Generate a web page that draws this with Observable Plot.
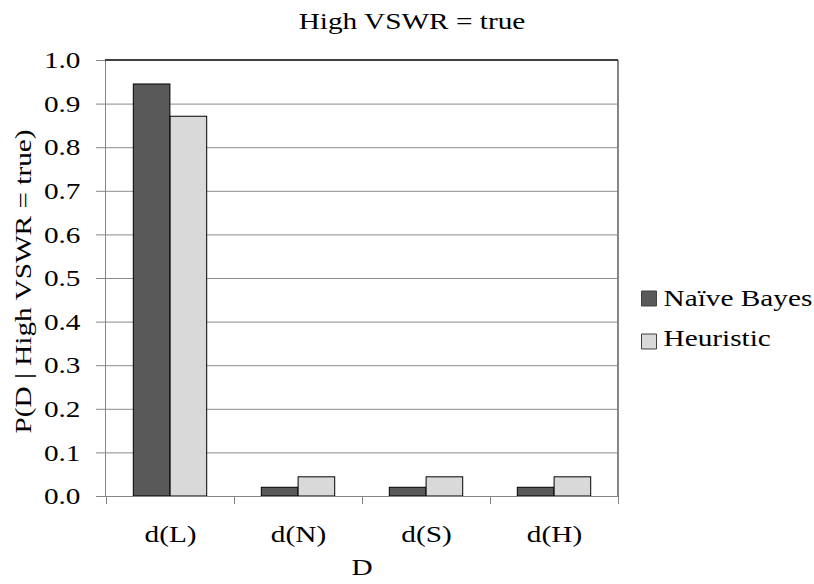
<!DOCTYPE html>
<html><head><meta charset="utf-8">
<script src="https://cdn.jsdelivr.net/npm/d3@7"></script>
<script src="https://cdn.jsdelivr.net/npm/@observablehq/plot@0.6"></script>
<style>html,body{margin:0;padding:0;background:#fff;overflow:hidden}</style>
</head><body><div id="chart"></div>
<script>
const categories = ["d(L)", "d(N)", "d(S)", "d(H)"];
const seriesNames = ["Naïve Bayes", "Heuristic"];
const naiveBayes = [0.945, 0.020, 0.020, 0.020];
const heuristic = [0.871, 0.044, 0.044, 0.044];
const yTicks = [0, 0.1, 0.2, 0.3, 0.4, 0.5, 0.6, 0.7, 0.8, 0.9, 1.0];
const seriesColors = ["#595959", "#d9d9d9"];
const title = "High VSWR = true";
const xTitle = "D";
const yTitle = "P(D | High VSWR = true)";

const rows = categories.flatMap((c, i) => [
  {category: c, series: seriesNames[0], value: naiveBayes[i]},
  {category: c, series: seriesNames[1], value: heuristic[i]}
]);

const FONT = 24;
const inNear = 27.3, inFar = 64.1;

function axisLines(index, scales, values, dim) {
  const xs = categories.map(c => scales.x(c));
  const xl = dim.marginLeft, xr = dim.width - dim.marginRight;
  xs.push(xr);
  const y0 = scales.y(0), y1 = scales.y(1);
  const g = d3.create("svg:g").attr("stroke", "#868686").attr("stroke-width", 1).attr("shape-rendering", "crispEdges");
  for (const x of xs) g.append("line").attr("x1", x).attr("x2", x).attr("y1", y0).attr("y2", y0 + 8);
  g.append("line").attr("x1", xl).attr("x2", xl).attr("y1", y1).attr("y2", y0);
  g.append("line").attr("x1", xr).attr("x2", xr).attr("y1", y1).attr("y2", y0).attr("stroke-width", 1.5);
  g.append("line").attr("x1", xl).attr("x2", xr).attr("y1", y0).attr("y2", y0);
  g.append("line").attr("x1", xl).attr("x2", xr).attr("y1", y1).attr("y2", y1).attr("stroke", "#404040").attr("stroke-width", 1.5);
  return g.node();
}

const chart = Plot.plot({
  width: 814, height: 584,
  marginLeft: 105, marginRight: 196, marginTop: 60, marginBottom: 88,
  style: {fontFamily: "'Liberation Serif', 'Times New Roman', serif", fontSize: FONT + "px", color: "#000", background: "#fff"},
  x: {domain: categories, padding: 0},
  y: {domain: [0, 1]},
  marks: [
    Plot.ruleY(yTicks.filter(t => t > 0 && t < 1), {y: d => d, stroke: "#8c8c8c", strokeWidth: 1}),
    Plot.barY(rows.filter(r => r.series === seriesNames[0]), {x: "category", y: "value", fill: seriesColors[0], stroke: "#000", strokeWidth: 1, insetLeft: inNear, insetRight: inFar}),
    Plot.barY(rows.filter(r => r.series === seriesNames[1]), {x: "category", y: "value", fill: seriesColors[1], stroke: "#000", strokeWidth: 1, insetLeft: inFar, insetRight: inNear}),
    axisLines,
    Plot.axisY({ticks: yTicks, tickFormat: d3.format(".1f"), tickSize: 9, tickPadding: 16, label: null, stroke: "#868686"}),
    Plot.axisX({tickSize: 0, tickPadding: 28, label: null}),
    Plot.text([title], {text: d => d, frameAnchor: "top", lineAnchor: "middle", dx: 50, dy: -39.4, fontSize: FONT}),
    Plot.text([xTitle], {text: d => d, frameAnchor: "bottom", lineAnchor: "middle", dy: 71.3, fontSize: FONT}),
    Plot.text([yTitle], {text: d => d, frameAnchor: "left", textAnchor: "start", lineAnchor: "middle", rotate: -90, dx: -82.5, dy: 155, fontSize: FONT}),
    Plot.dot([seriesNames[0]], {frameAnchor: "right", dx: 30.5, dy: 20, symbol: "square", r: 8.46, fill: seriesColors[0], stroke: "#404040", strokeWidth: 1}),
    Plot.dot([seriesNames[1]], {frameAnchor: "right", dx: 30.5, dy: 63, symbol: "square", r: 8.46, fill: seriesColors[1], stroke: "#404040", strokeWidth: 1}),
    Plot.text([seriesNames[0]], {text: d => d, frameAnchor: "right", textAnchor: "start", lineAnchor: "middle", dx: 45, dy: 20.3, fontSize: FONT}),
    Plot.text([seriesNames[1]], {text: d => d, frameAnchor: "right", textAnchor: "start", lineAnchor: "middle", dx: 45, dy: 60.3, fontSize: FONT})
  ]
});
document.getElementById("chart").appendChild(chart);
document.querySelectorAll("#chart svg text").forEach(t => {
  const L = t.getComputedTextLength();
  if (L > 0) {
    t.setAttribute("textLength", (L * 1.22).toFixed(2));
    t.setAttribute("lengthAdjust", "spacingAndGlyphs");
  }
});
</script>
</body></html>
